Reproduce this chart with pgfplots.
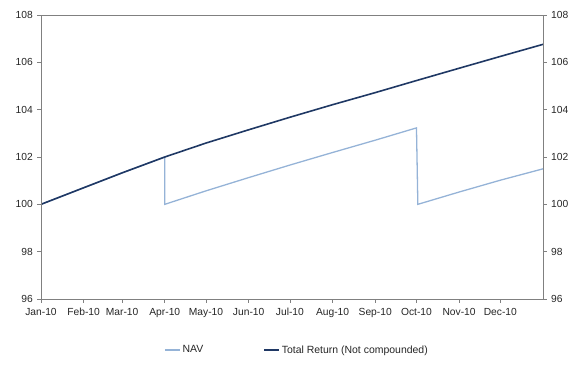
\documentclass[border=0pt]{standalone}
\usepackage{pgfplots}
\pgfplotsset{compat=1.18}
\usepackage{fontspec}
\setmainfont{Liberation Sans}
\definecolor{navc}{HTML}{95B3D7}
\definecolor{trc}{HTML}{1F3864}
\definecolor{axc}{HTML}{808080}
\pgfplotstableread{
day nav
0 100
31 100.70
59 101.33
90 102.00
90 100.00
120 100.57
151 101.13
181 101.66
212 102.19
243 102.71
273 103.23
274 100.00
304 100.52
334 101.02
365 101.50
}\navdata
\pgfplotstableread{
day tr
0 100
31 100.70
59 101.33
90 102.00
120 102.59
151 103.15
181 103.68
212 104.21
243 104.72
273 105.23
304 105.75
334 106.25
365 106.76
}\trdata
\begin{document}
\fontsize{10.5}{12}\selectfont
\begin{tikzpicture}
\path[use as bounding box] (-41bp,-68bp) rectangle (534bp,299bp);
\pgfplotsset{
  common/.style={
    scale only axis, width=502bp, height=284bp,
    at={(0,0)}, anchor=south west,
    xmin=0, xmax=365, ymin=96, ymax=108,
    ytick={96,98,...,108},
    axis line style={axc, line width=0.8pt},
    tick style={axc, line width=0.8pt},
    tick align=outside, major tick length=3.5bp,
    every tick label/.style={font=\fontsize{10.3}{12}\selectfont, text=black!85},
    /pgf/number format/assume math mode=true,
  }
}
\begin{axis}[common,
  ytick pos=left, xtick pos=bottom,
  xtick={0,31,59,90,120,151,181,212,243,273,304,334},
  xticklabels={Jan-10,Feb-10,Mar-10,Apr-10,May-10,Jun-10,Jul-10,Aug-10,Sep-10,Oct-10,Nov-10,Dec-10},
  yticklabel style={xshift=-1bp},
  xticklabel style={yshift=-2bp},
  legend style={at={(0.51,-0.18)}, anchor=center, draw=none, fill=none,
    legend columns=2, font=\fontsize{10.5}{12}\selectfont, text=black!85,
    /tikz/every even column/.append style={column sep=58bp}},
  legend cell align=left,
  legend image code/.code={\draw[#1] (0bp,0bp) -- (15bp,0bp);},
]
\addplot[navc, line width=1.3pt] table[x=day, y=nav] {\navdata};
\addlegendentry{NAV}
\addplot[trc, line width=1.6pt] table[x=day, y=tr] {\trdata};
\addlegendentry{Total Return (Not compounded)}
\end{axis}
\begin{axis}[common,
  ytick pos=right, yticklabel pos=right, xtick=\empty,
  yticklabel style={xshift=1bp},
]
\end{axis}
\end{tikzpicture}
\end{document}
